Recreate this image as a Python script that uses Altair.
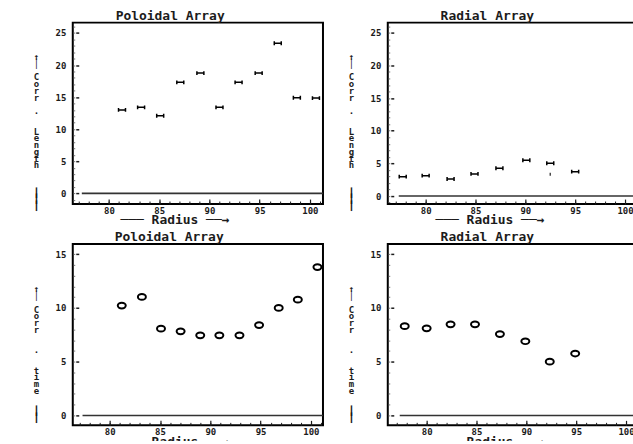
import altair as alt
import pandas as pd

# ---------------- data ----------------
pol_len_r = [81.3, 83.2, 85.1, 87.1, 89.1, 91.0, 92.9, 94.9, 96.8, 98.7, 100.6]
pol_len = [13.0, 13.4, 12.1, 17.3, 18.75, 13.4, 17.3, 18.75, 23.4, 14.9, 14.85]

rad_len_r = [77.7, 80.0, 82.5, 84.9, 87.4, 90.1, 92.5, 95.0]
rad_len = [2.96, 3.12, 2.61, 3.38, 4.25, 5.48, 5.02, 3.73]
rad_len_extra_r = [92.5]
rad_len_extra = [3.33]

pol_time_r = [81.2, 83.2, 85.1, 87.05, 89.0, 90.9, 92.9, 94.85, 96.8, 98.7, 100.65]
pol_time = [10.22, 11.02, 8.07, 7.82, 7.45, 7.45, 7.45, 8.4, 10.0, 10.77, 13.8]

rad_time_r = [77.8, 80.0, 82.4, 84.85, 87.35, 89.9, 92.35, 94.9]
rad_time = [8.3, 8.1, 8.47, 8.47, 7.57, 6.9, 5.0, 5.76]

x_major_ticks = [80, 85, 90, 95, 100]
x_minor_ticks = list(range(77, 102))
len_major_ticks = [0, 5, 10, 15, 20, 25]
time_major_ticks = [0, 5, 10, 15]
len_minor_ticks = list(range(-1, 27))
time_minor_ticks = list(range(0, 16))

zero_line_start = 77.3

B = "\u2800"  # blank line in the stacked axis titles
V = "┃"
titles = ["Poloidal Array", "Radial Array", "Poloidal Array", "Radial Array"]
x_title = "─── Radius ──→"
ytitle_len = ["↑", "│", B, "C", "o", "r", "r", B, ".", B, B, "L", "e", "n",
              "g", "t", "h", B, B, B, V, V, V]
ytitle_time = ["↑", "│", B, "C", "o", "r", "r", B, B, ".", B, B, "t", "i",
               "m", "e", B, B, V, V]

# ---------------- styling ----------------
FONT = "DejaVu Sans Mono"
INK = "#1c1c1c"
W, H = 251, 182

H_MARK = "M-1,-0.55V0.55M-1,0H1M1,-0.55V0.55"
O_MARK = "M-1,0A1,0.72 0 1,1 1,0A1,0.72 0 1,1 -1,0Z"
DOT_MARK = "M0,-1V1"

common = dict(domain=False, grid=False, labelFont=FONT, labelFontWeight="bold",
              labelFontSize=9, labelColor=INK, tickColor=INK, titleFont=FONT,
              titleFontWeight="bold", titleColor=INK)


def panel(xs, ys, xdom, ydom, yticks, yminor, ytitle, title, title_dx, marker,
          size, sw, extra=None):
    df = pd.DataFrame({"r": xs, "v": ys})
    xs_ = alt.Scale(domain=xdom, nice=False, zero=False)
    ys_ = alt.Scale(domain=ydom, nice=False, zero=False)

    x_major = alt.Axis(values=x_major_ticks, orient="bottom", tickSize=5, offset=-5,
                       labelPadding=2, labelFlush=False, title=x_title, titleX=102,
                       titleY=21, titleBaseline="middle", titleAlign="center",
                       titleFontSize=13, tickWidth=1.2, **common)
    y_major = alt.Axis(values=yticks, orient="left", tickSize=3, offset=-6,
                       labelPadding=10, title=ytitle, titleAngle=0, titleAlign="center",
                       titleBaseline="top", titleX=-43,
                       titleY=30 if len(yticks) > 4 else 41,
                       titleFontSize=9, titleLineHeight=6.8, tickWidth=1.5, **common)
    x_minor = alt.Axis(values=x_minor_ticks, tickSize=3, offset=-3, labels=False,
                       title=None, orient="bottom", domain=False, grid=False,
                       tickColor=INK, tickWidth=1)
    y_minor = alt.Axis(values=yminor, tickSize=1.5, offset=-2, labels=False,
                       title=None, orient="left", domain=False, grid=False,
                       tickColor="#777", tickWidth=1)

    zero = pd.DataFrame({"x": [zero_line_start], "x2": [xdom[1]], "y": [0]})
    line = alt.Chart(zero).mark_rule(color="#333", strokeWidth=1.6).encode(
        x=alt.X("x:Q", scale=xs_, axis=x_minor),
        x2="x2:Q",
        y=alt.Y("y:Q", scale=ys_, axis=y_minor),
    )
    pts = alt.Chart(df).mark_point(shape=marker, size=size, filled=False,
                                   color="black", strokeWidth=sw, opacity=1).encode(
        x=alt.X("r:Q", scale=xs_, axis=x_major),
        y=alt.Y("v:Q", scale=ys_, axis=y_major),
    )
    layers = [line, pts]
    if extra is not None:
        edf = pd.DataFrame({"r": extra[0], "v": extra[1]})
        layers.append(alt.Chart(edf).mark_point(shape=DOT_MARK, size=9, filled=False,
                                                color="black", strokeWidth=1.5).encode(
            x=alt.X("r:Q", scale=xs_, axis=None),
            y=alt.Y("v:Q", scale=ys_, axis=None)))
    return alt.layer(*layers).resolve_axis(x="independent", y="independent").properties(
        width=W, height=H,
        title=alt.TitleParams(title, anchor="start", frame="group", dx=title_dx, offset=0,
                              font=FONT, fontSize=13, fontWeight="bold", color=INK),
    )


p1 = panel(pol_len_r, pol_len, [76.4, 101.3], [-1.67, 26.61], len_major_ticks,
           len_minor_ticks, ytitle_len, titles[0], 43, H_MARK, 49, 1.5)
p2 = panel(rad_len_r, rad_len, [76.2, 101.3], [-1.23, 26.54], len_major_ticks,
           len_minor_ticks, ytitle_len, titles[1], 53, H_MARK, 49, 1.5,
           extra=(rad_len_extra_r, rad_len_extra))
p3 = panel(pol_time_r, pol_time, [76.33, 101.2], [-0.92, 15.95], time_major_ticks,
           time_minor_ticks, ytitle_time, titles[2], 42, O_MARK, 64, 2)
p4 = panel(rad_time_r, rad_time, [76.1, 101.2], [-0.92, 15.95], time_major_ticks,
           time_minor_ticks, ytitle_time, titles[3], 53, O_MARK, 64, 2)

chart = alt.concat(p1, p2, p3, p4, columns=2, spacing={"row": 40, "column": 65},
                   bounds="flush").properties(
    padding={"left": 31, "top": 8, "right": -7, "bottom": -9},
    background="white",
).configure_view(stroke="black", strokeWidth=2)

chart.save("out.html", embed_options={"renderer": "svg", "actions": False})
